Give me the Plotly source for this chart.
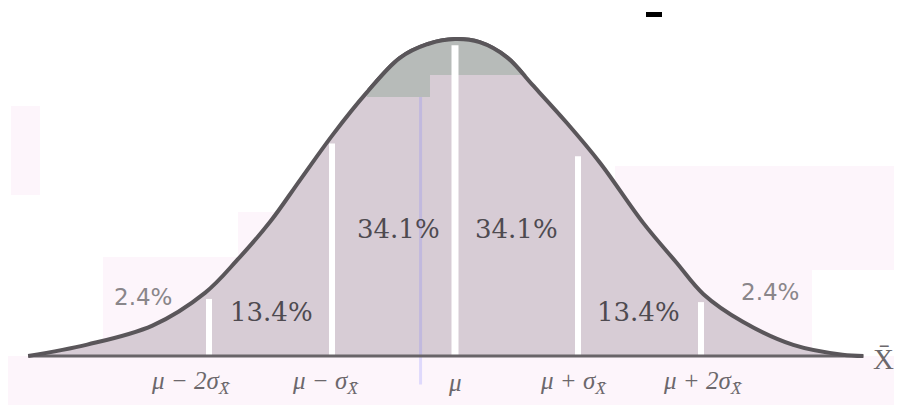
import plotly.graph_objects as go

# curve: x in sigma units from the mean, height relative to the peak
curve_x = [-3.47, -2.99, -2.46, -2.03, -1.77, -1.50, -1.26, -0.99, -0.72, -0.45, -0.23, 0.0,
           0.20, 0.42, 0.63, 0.91, 1.18, 1.53, 1.80, 2.02, 2.34, 2.75, 3.15, 3.32]
curve_y = [0.0, 0.036, 0.096, 0.20, 0.303, 0.425, 0.555, 0.70, 0.83, 0.94, 0.983, 1.0,
           0.99, 0.943, 0.855, 0.735, 0.609, 0.42, 0.295, 0.195, 0.108, 0.035, 0.004, 0.0]

# white separators at mu + k*sigma
sep_x = [-2, -1, 0, 1, 2]
sep_top = [0.18, 0.67, 0.98, 0.63, 0.17]

pct_labels = ['2.4%', '13.4%', '34.1%', '34.1%', '13.4%', '2.4%']
tick_labels = ['μ − 2σ<sub>X̄</sub>', 'μ − σ<sub>X̄</sub>', 'μ',
               'μ + σ<sub>X̄</sub>', 'μ + 2σ<sub>X̄</sub>']

# the page has an 8px body margin, so the figure is 8px smaller than the window
OFF = 8
W, H = 902 - OFF, 405 - OFF
MU_PX, BASE_PX, SIG_PX, PEAK_PX = 455 - OFF, 356 - OFF, 123, 317
XR = [-MU_PX / SIG_PX, (W - MU_PX) / SIG_PX]
YR = [(BASE_PX - H) / PEAK_PX, BASE_PX / PEAK_PX]


def px(x):
    return (x - OFF) / W


def py(y):
    return 1 - (y - OFF) / H


fill_col = '#d7ccd5'
cap_col = '#b7bbb9'
line_col = '#5a565a'
SMOOTH = 1.0


def add_marks(fig, xa='x', ya='y', fill=fill_col):
    fig.add_trace(go.Scatter(x=curve_x, y=curve_y, mode='lines',
                             line=dict(width=0, shape='spline', smoothing=SMOOTH),
                             fill='tozeroy', fillcolor=fill, hoverinfo='skip',
                             xaxis=xa, yaxis=ya))
    if xa == 'x':
        # faint blue scan line
        fig.add_trace(go.Scatter(x=[-0.28, -0.28], y=[0.96, -0.09], mode='lines',
                                 line=dict(color='rgba(120,120,255,0.22)', width=3),
                                 hoverinfo='skip'))
    for sx, st in zip(sep_x, sep_top):
        fig.add_trace(go.Scatter(x=[sx, sx], y=[0, st], mode='lines',
                                 line=dict(color='white', width=7 if sx == 0 else 6),
                                 hoverinfo='skip', xaxis=xa, yaxis=ya))
    if xa == 'x':
        fig.add_trace(go.Scatter(x=[curve_x[0], curve_x[-1]], y=[0, 0], mode='lines',
                                 line=dict(color='#686468', width=3), hoverinfo='skip'))
    fig.add_trace(go.Scatter(x=curve_x, y=curve_y, mode='lines',
                             line=dict(color=line_col, width=4, shape='spline', smoothing=SMOOTH),
                             hoverinfo='skip', xaxis=xa, yaxis=ya))


def sub_range(rng, d0, d1):
    return [rng[0] + d0 * (rng[1] - rng[0]), rng[0] + d1 * (rng[1] - rng[0])]


fig = go.Figure()
add_marks(fig)

# greyish cap near the top, drawn again on clipped axes
caps = [(367, 430, 97), (430, 530, 75)]
for i, (x0, x1, ytop) in enumerate(caps, start=2):
    dx = [px(x0), px(x1)]
    dy = [py(ytop), 1]
    add_marks(fig, f'x{i}', f'y{i}', cap_col)
    fig.update_layout(**{
        f'xaxis{i}': dict(domain=dx, range=sub_range(XR, *dx), visible=False, fixedrange=True),
        f'yaxis{i}': dict(domain=dy, range=sub_range(YR, *dy), visible=False, fixedrange=True,
                          anchor=f'x{i}'),
    })

pct_pos = [(-2.54, 0.186), (-1.49, 0.139), (-0.46, 0.40), (0.50, 0.40), (1.49, 0.139), (2.56, 0.202)]
for lab, (xx, yy) in zip(pct_labels, pct_pos):
    outer = lab == '2.4%'
    fig.add_annotation(x=xx, y=yy, text=lab, showarrow=False,
                       font=dict(family='DejaVu Sans' if outer else 'DejaVu Serif',
                                 size=23 if outer else 26,
                                 color='#8a868a' if outer else '#4e4a50'))

tick_pos = [-2.15, -1.05, 0.0, 0.96, 2.02]
for lab, xx in zip(tick_labels, tick_pos):
    fig.add_annotation(x=xx, y=-0.085, text=lab, showarrow=False,
                       font=dict(family='Liberation Serif', size=25, color='#6c686c',
                                 style='italic'))

fig.add_annotation(x=3.48, y=-0.01, text='X̄', showarrow=False,
                   font=dict(family='Liberation Serif', size=29, color='#6c686c'))

# light pink scan blocks and the stray black dash
pink = '#fdf5fb'
blocks = [(0, 356, 902, 405), (103, 257, 455, 356), (238, 212, 455, 257),
          (615, 166, 812, 356), (812, 166, 902, 270), (11, 106, 40, 195)]
shapes = [dict(type='rect', xref='paper', yref='paper', x0=px(a), x1=px(c),
               y0=py(d), y1=py(b), fillcolor=pink, line=dict(width=0), layer='below')
          for a, b, c, d in blocks]
shapes.append(dict(type='rect', xref='paper', yref='paper', x0=px(646), x1=px(662),
                   y0=py(17), y1=py(12), fillcolor='black', line=dict(width=0)))

fig.update_layout(
    width=W, height=H,
    margin=dict(l=0, r=0, t=0, b=0),
    paper_bgcolor='white',
    plot_bgcolor='rgba(0,0,0,0)',
    showlegend=False,
    shapes=shapes,
    xaxis=dict(range=XR, visible=False, fixedrange=True),
    yaxis=dict(range=YR, visible=False, fixedrange=True),
)

fig.write_html('out.html')
